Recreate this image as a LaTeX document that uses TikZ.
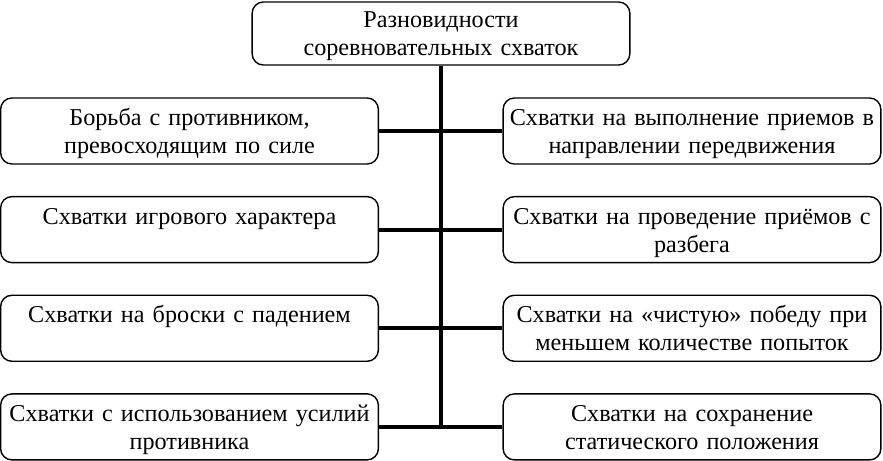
\documentclass[tikz,border=0pt]{standalone}
\usepackage{fontspec}
\setmainfont{Liberation Serif}
\usetikzlibrary{positioning}

\begin{document}
\begin{tikzpicture}[x=0.025cm, y=-0.025cm, node distance=0.78cm]

% Define block styles
\tikzstyle{block} = [draw, rounded corners=8pt, line width=1pt, minimum height=1.65cm, text width=9.3cm, inner xsep=2pt, inner ysep=0pt, align=center, font=\fontsize{17.2}{20}\selectfont, execute at begin node={\rule{0pt}{18pt}}, execute at end node={\strut}]
\tikzstyle{head} = [block, minimum height=1.575cm]
\tikzstyle{trunkline} = [line width=3.5pt]
\tikzstyle{branch} = [line width=2.8pt]

\useasboundingbox (0,0) rectangle (883,461);

% Nodes
\node [head] (root) at (441,33.5) {Разновидности\\соревновательных схваток};
\coordinate (trunk) at (441,428);

\node [block] (left1) at (189.5,131) {Борьба с противником,\\превосходящим по силе};
\node [block, below=of left1] (left2) {Схватки игрового характера\\};
\node [block, below=of left2] (left3) {Схватки на броски с падением\\};
\node [block, below=of left3] (left4) {Схватки с использованием усилий\\противника};

\node [block] (right1) at (692,131) {Схватки на выполнение приемов в\\направлении передвижения};
\node [block, below=of right1] (right2) {Схватки на проведение приёмов с\\разбега};
\node [block, below=of right2] (right3) {Схватки на «чистую» победу при\\меньшем количестве попыток};
\node [block, below=of right3] (right4) {Схватки на сохранение\\статического положения};

% Connections
\draw [trunkline] (root.south) -- (trunk);
\draw [branch] (left1.east) -- (left1.east -| root);
\draw [branch] (left2.east) -- (left2.east -| root);
\draw [branch] (left3.east) -- (left3.east -| root);
\draw [branch] (left4.east) -- (left4.east -| root);
\draw [branch] (right1.west) -- (right1.west -| root);
\draw [branch] (right2.west) -- (right2.west -| root);
\draw [branch] (right3.west) -- (right3.west -| root);
\draw [branch] (right4.west) -- (right4.west -| root);

\end{tikzpicture}
\end{document}
